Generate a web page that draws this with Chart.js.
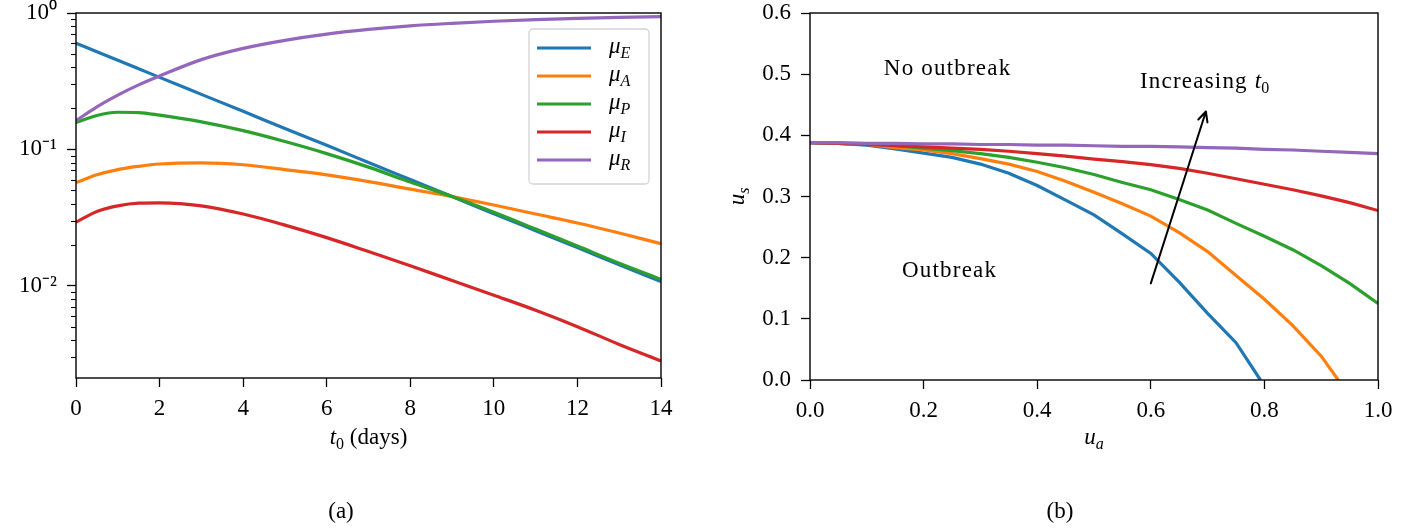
<!DOCTYPE html>
<html>
<head>
<meta charset="utf-8">
<script src="https://cdn.jsdelivr.net/npm/chart.js@4.4.1/dist/chart.umd.min.js"></script>
<style>
  body { margin: 0; background: #fff; }
  #wrap { position: relative; width: 1422px; height: 531px; }
  canvas { position: absolute; top: 0; }
  .cap { position: absolute; top: 498px; width: 60px; margin-left: -30px; text-align: center;
         font: 23px "Liberation Serif", serif; color: #000; }
</style>
</head>
<body>
<div id="wrap">
  <canvas id="chartA" width="700" height="531" style="left:0"></canvas>
  <canvas id="chartB" width="722" height="531" style="left:700px"></canvas>
  <div class="cap" style="left:341px">(a)</div>
  <div class="cap" style="left:1060px">(b)</div>
</div>
<script>
// panel (a): mu values against t0 (days), log scale
const tDays = [0, 0.5, 1, 1.5, 2, 3, 4, 5, 6, 7, 8, 9, 10, 11, 12, 13, 14];
const muE = [0.600, 0.520, 0.450, 0.390, 0.337, 0.253, 0.190, 0.142, 0.107, 0.080, 0.060, 0.045, 0.0337, 0.0253, 0.0190, 0.0142, 0.0107];
const muA = [0.057, 0.065, 0.071, 0.075, 0.078, 0.0795, 0.077, 0.071, 0.065, 0.058, 0.051, 0.045, 0.039, 0.0335, 0.0288, 0.0243, 0.0203];
const muP = [0.157, 0.177, 0.187, 0.186, 0.178, 0.159, 0.137, 0.114, 0.093, 0.074, 0.0575, 0.045, 0.0345, 0.026, 0.0195, 0.0146, 0.0111];
const muI = [0.0292, 0.0350, 0.0385, 0.0403, 0.0405, 0.0385, 0.0335, 0.0278, 0.0225, 0.0178, 0.0140, 0.0109, 0.0085, 0.0066, 0.0050, 0.0037, 0.0028];
const muR = [0.162, 0.205, 0.250, 0.297, 0.345, 0.455, 0.550, 0.630, 0.700, 0.758, 0.805, 0.840, 0.870, 0.893, 0.912, 0.928, 0.942];
const seriesNames = ["E", "A", "P", "I", "R"];
const logTicks = [0.003, 0.004, 0.005, 0.006, 0.007, 0.008, 0.009,
  0.01, 0.02, 0.03, 0.04, 0.05, 0.06, 0.07, 0.08, 0.09,
  0.1, 0.2, 0.3, 0.4, 0.5, 0.6, 0.7, 0.8, 0.9, 1];

// panel (b): outbreak boundary u_s vs u_a, one curve per t0 (increasing)
const ua1 = [0, 0.05, 0.1, 0.15, 0.2, 0.25, 0.3, 0.35, 0.4, 0.45, 0.5, 0.55, 0.6, 0.65, 0.7, 0.75, 0.793];
const us1 = [0.388, 0.387, 0.384, 0.378, 0.371, 0.364, 0.353, 0.338, 0.318, 0.294, 0.270, 0.239, 0.207, 0.160, 0.109, 0.061, 0.0];
const ua2 = [0, 0.05, 0.1, 0.15, 0.2, 0.25, 0.3, 0.35, 0.4, 0.45, 0.5, 0.55, 0.6, 0.65, 0.7, 0.75, 0.8, 0.85, 0.9, 0.93];
const us2 = [0.388, 0.387, 0.385, 0.380, 0.376, 0.370, 0.362, 0.353, 0.341, 0.325, 0.307, 0.288, 0.268, 0.241, 0.210, 0.171, 0.132, 0.089, 0.039, 0.0];
const uaGrid = [0, 0.05, 0.1, 0.15, 0.2, 0.25, 0.3, 0.35, 0.4, 0.45, 0.5, 0.55, 0.6, 0.65, 0.7, 0.75, 0.8, 0.85, 0.9, 0.95, 1.0];
const us3 = [0.388, 0.387, 0.386, 0.383, 0.379, 0.375, 0.370, 0.364, 0.356, 0.347, 0.336, 0.323, 0.311, 0.295, 0.278, 0.256, 0.235, 0.213, 0.187, 0.158, 0.125];
const us4 = [0.388, 0.387, 0.385, 0.383, 0.381, 0.379, 0.377, 0.374, 0.370, 0.366, 0.361, 0.357, 0.352, 0.346, 0.338, 0.329, 0.320, 0.311, 0.301, 0.290, 0.277];
const us5 = [0.388, 0.388, 0.387, 0.387, 0.386, 0.386, 0.385, 0.385, 0.384, 0.384, 0.383, 0.382, 0.382, 0.381, 0.380, 0.379, 0.377, 0.376, 0.374, 0.372, 0.370];

const colors = ["#1f77b4", "#ff7f0e", "#2ca02c", "#d62728", "#9467bd"];
const FONT = '"Liberation Serif", "Times New Roman", serif';
const FS = 23;

// text notes for panel (b), in data units (left edge, baseline)
const notes = [
  { parts: [["No outbreak", ""]], x: 0.13, y: 0.498 },
  { parts: [["Outbreak", ""]], x: 0.162, y: 0.169 },
  { parts: [["Increasing ", ""], ["t", "i"], ["0", "sub"]], x: 0.581, y: 0.477 }
];
const arrowFrom = [0.6, 0.158];
const arrowTo = [0.697, 0.439];

// draws mixed text: parts = [[text, style]], style "", "i", "sub", "subi", "sup"
function richText(ctx, parts, x, y, align, spacing) {
  ctx.save();
  ctx.fillStyle = "#000";
  ctx.textBaseline = "alphabetic";
  ctx.textAlign = "left";
  const fontOf = (st) => {
    const small = st.startsWith("sub") || st === "sup";
    return (st.endsWith("i") ? "italic " : "") + (small ? Math.round(FS * 0.7) : FS) + "px " + FONT;
  };
  let total = 0;
  const widths = parts.map(([t, st]) => {
    ctx.font = fontOf(st);
    ctx.letterSpacing = st === "" ? (spacing || "0px") : "0px";
    const w = ctx.measureText(t).width;
    total += w;
    return w;
  });
  let cx = align === "center" ? x - total / 2 : x;
  parts.forEach(([t, st], k) => {
    ctx.font = fontOf(st);
    ctx.letterSpacing = st === "" ? (spacing || "0px") : "0px";
    let dy = 0;
    if (st.startsWith("sub")) dy = FS * 0.22;
    if (st === "sup") dy = -FS * 0.4;
    ctx.fillText(t, cx, y + dy);
    cx += widths[k];
  });
  ctx.restore();
}

function drawFrame(chart) {
  const { ctx, chartArea: a } = chart;
  ctx.save();
  ctx.strokeStyle = "#000";
  ctx.lineWidth = 1.4;
  ctx.strokeRect(a.left, a.top, a.right - a.left, a.bottom - a.top);
  ctx.restore();
}

// keep the plot box fixed: no extra room for overhanging tick labels
function noOverhang(s) {
  s.paddingTop = 0;
  s.paddingBottom = 0;
  s.paddingLeft = 0;
  s.paddingRight = 0;
}

const isMajor = (v) => Math.abs(Math.log10(v) - Math.round(Math.log10(v))) < 1e-9;
const supDigits = { "0": "⁰", "1": "¹", "2": "²", "-": "⁻" };

const panelA = {
  id: "panelA",
  afterDraw(chart) {
    const { ctx, chartArea: a } = chart;
    const y = chart.scales.y;
    drawFrame(chart);
    // minor ticks on the log axis
    ctx.save();
    ctx.strokeStyle = "#000";
    ctx.lineWidth = 1.1;
    logTicks.filter(v => !isMajor(v)).forEach(v => {
      const py = Math.round(y.getPixelForValue(v)) + 0.5;
      ctx.beginPath();
      ctx.moveTo(a.left - 5, py);
      ctx.lineTo(a.left, py);
      ctx.stroke();
    });
    ctx.restore();
    // legend
    const bx = a.right - 132, by = a.top + 16, bw = 120, bh = 155;
    ctx.save();
    ctx.fillStyle = "rgba(255,255,255,0.85)";
    ctx.strokeStyle = "#d4d4d4";
    ctx.lineWidth = 1.3;
    ctx.beginPath();
    ctx.roundRect(bx, by, bw, bh, 4);
    ctx.fill();
    ctx.stroke();
    seriesNames.forEach((n, i) => {
      const ly = by + 19 + i * 28;
      ctx.strokeStyle = colors[i];
      ctx.lineWidth = 3.2;
      ctx.beginPath();
      ctx.moveTo(bx + 8, ly);
      ctx.lineTo(bx + 62, ly);
      ctx.stroke();
      richText(ctx, [["μ", "i"], [n, "subi"]], bx + 80, ly + 5, "left");
    });
    ctx.restore();
    // x title
    richText(ctx, [["t", "i"], ["0", "sub"], [" (days)", ""]], (a.left + a.right) / 2, 444, "center");
  }
};

const panelB = {
  id: "panelB",
  afterDraw(chart) {
    const { ctx, chartArea: a, scales } = chart;
    const sx = scales.x, sy = scales.y;
    drawFrame(chart);
    richText(ctx, [["u", "i"], ["a", "subi"]], (a.left + a.right) / 2, 444, "center");
    ctx.save();
    ctx.translate(a.left - 66, (a.top + a.bottom) / 2);
    ctx.rotate(-Math.PI / 2);
    richText(ctx, [["u", "i"], ["s", "subi"]], 0, 0, "center");
    ctx.restore();
    notes.forEach(n => {
      richText(ctx, n.parts, sx.getPixelForValue(n.x), sy.getPixelForValue(n.y), "left", "1.2px");
    });
    // arrow
    const x0 = sx.getPixelForValue(arrowFrom[0]), y0 = sy.getPixelForValue(arrowFrom[1]);
    const x1 = sx.getPixelForValue(arrowTo[0]), y1 = sy.getPixelForValue(arrowTo[1]);
    const ang = Math.atan2(y1 - y0, x1 - x0);
    ctx.save();
    ctx.strokeStyle = "#000";
    ctx.lineWidth = 2;
    ctx.lineCap = "round";
    ctx.beginPath();
    ctx.moveTo(x0, y0);
    ctx.lineTo(x1, y1);
    [0.45, -0.45].forEach(d => {
      ctx.moveTo(x1, y1);
      ctx.lineTo(x1 - 11 * Math.cos(ang + d), y1 - 11 * Math.sin(ang + d));
    });
    ctx.stroke();
    ctx.restore();
  }
};

const tickFont = { family: FONT, size: FS };
const gridOpts = { display: true, drawOnChartArea: false, drawTicks: true, tickLength: 9, tickWidth: 1.3, tickColor: "#000" };

new Chart(document.getElementById("chartA"), {
  type: "line",
  data: {
    datasets: [muE, muA, muP, muI, muR].map((s, i) => ({
      label: "μ" + seriesNames[i],
      data: tDays.map((t, k) => ({ x: t, y: s[k] })),
      borderColor: colors[i],
      borderWidth: 3.2,
      pointRadius: 0,
      cubicInterpolationMode: "monotone",
      fill: false,
      order: 5 - i
    }))
  },
  options: {
    responsive: false,
    animation: false,
    devicePixelRatio: 1,
    layout: { padding: { left: 0, top: 13, right: 39, bottom: 93 } },
    plugins: { legend: { display: false }, tooltip: { enabled: false } },
    scales: {
      x: {
        type: "linear", min: 0, max: 14,
        ticks: { stepSize: 2, font: tickFont, color: "#000", padding: 8, maxRotation: 0 },
        grid: gridOpts,
        border: { display: false },
        afterFit: (s) => { s.height = 60; noOverhang(s); }
      },
      y: {
        type: "logarithmic", min: 0.0021, max: 1,
        afterBuildTicks: (s) => { s.ticks = logTicks.map(v => ({ value: v })); },
        ticks: {
          autoSkip: false, font: tickFont, color: "#000", padding: 10,
          callback: (v) => isMajor(v) ? "10" + String(Math.round(Math.log10(v))).split("").map(c => supDigits[c]).join("") : ""
        },
        grid: Object.assign({}, gridOpts, {
          tickColor: (c) => isMajor(c.tick.value) ? "#000" : "rgba(0,0,0,0)"
        }),
        border: { display: false },
        afterFit: (s) => { s.width = 76; noOverhang(s); }
      }
    }
  },
  plugins: [panelA]
});

const boundary = [[ua1, us1], [ua2, us2], [uaGrid, us3], [uaGrid, us4], [uaGrid, us5]];

new Chart(document.getElementById("chartB"), {
  type: "line",
  data: {
    datasets: boundary.map(([xs, ys], i) => ({
      label: "curve " + (i + 1),
      data: xs.map((x, k) => ({ x: x, y: ys[k] })),
      borderColor: colors[i],
      borderWidth: 3.2,
      pointRadius: 0,
      tension: 0,
      fill: false,
      order: 5 - i
    }))
  },
  options: {
    responsive: false,
    animation: false,
    devicePixelRatio: 1,
    layout: { padding: { left: 0, top: 13, right: 44, bottom: 91 } },
    plugins: { legend: { display: false }, tooltip: { enabled: false } },
    scales: {
      x: {
        type: "linear", min: 0, max: 1,
        ticks: { stepSize: 0.2, font: tickFont, color: "#000", padding: 8, maxRotation: 0, callback: (v) => v.toFixed(1) },
        grid: gridOpts,
        border: { display: false },
        afterFit: (s) => { s.height = 60; noOverhang(s); }
      },
      y: {
        type: "linear", min: 0, max: 0.6,
        ticks: { stepSize: 0.1, font: tickFont, color: "#000", padding: 10, callback: (v) => v.toFixed(1) },
        grid: gridOpts,
        border: { display: false },
        afterFit: (s) => { s.width = 110; noOverhang(s); }
      }
    }
  },
  plugins: [panelB]
});
</script>
</body>
</html>
